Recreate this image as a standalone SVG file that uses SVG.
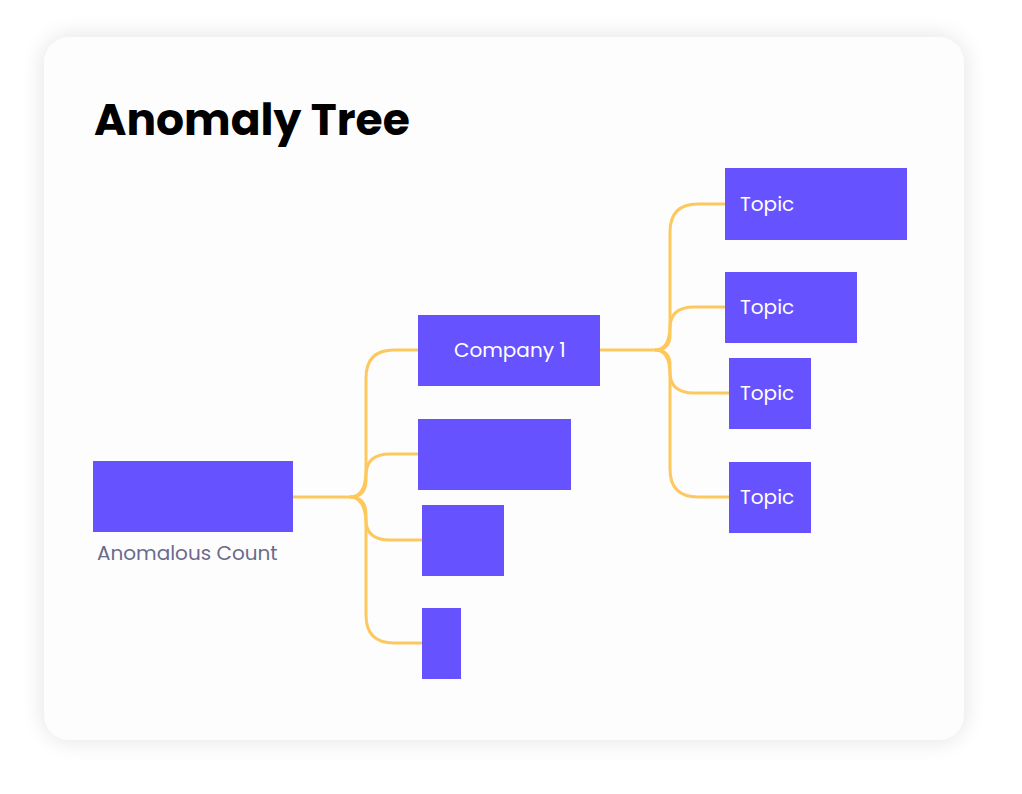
<svg xmlns="http://www.w3.org/2000/svg" width="1022" height="794" viewBox="0 0 1022 794">
<defs>
<filter id="sh" x="-10%" y="-10%" width="120%" height="120%"><feGaussianBlur in="SourceAlpha" stdDeviation="12"/><feComponentTransfer><feFuncA type="linear" slope="0.12"/></feComponentTransfer><feMerge><feMergeNode/><feMergeNode in="SourceGraphic"/></feMerge></filter>
<style>
.n{fill:#6752FF}
.t{font-family:Poppins,"Open Sans","Liberation Sans",sans-serif;font-size:20px;fill:#fff}
.c{fill:none;stroke:#FDC95E;stroke-width:3}
</style>
</defs>
<rect width="1022" height="794" fill="#fff"/>
<rect x="44" y="37" width="920" height="703" rx="26" fill="#fdfdfd" filter="url(#sh)"/>
<text x="94" y="135" font-family="Poppins,'Open Sans','Liberation Sans',sans-serif" font-weight="700" font-size="44" fill="#000">Anomaly Tree</text>
<g id="connectors">
<path class="c" d="M293,497 H350"/>
<path class="c" d="M350,497 Q366,497 366,470 V378 Q366,350 394,350 H420"/>
<path class="c" d="M350,497 Q366,497 366,480 V475 Q366,454 390,454 H420"/>
<path class="c" d="M350,497 Q366,497 366,515 V520 Q366,540 390,540 H424"/>
<path class="c" d="M350,497 Q366,497 366,525 V615 Q366,643 394,643 H424"/>
<path class="c" d="M600,350 H655"/>
<path class="c" d="M655,350 Q670,350 670,325 V232 Q670,204 698,204 H727"/>
<path class="c" d="M655,350 Q670,350 670,335 V328 Q670,307 694,307 H727"/>
<path class="c" d="M655,350 Q670,350 670,365 V372 Q670,393 694,393 H731"/>
<path class="c" d="M655,350 Q670,350 670,375 V469 Q670,497 698,497 H731"/>
</g>
<g id="root"><rect class="n" x="93" y="461" width="200" height="71"/><text x="97" y="560" font-family="Poppins,'Open Sans','Liberation Sans',sans-serif" font-size="20" fill="#6b6b8c">Anomalous Count</text></g>
<g id="company1"><rect class="n" x="418" y="315" width="182" height="71"/><text class="t" x="454" y="357">Company 1</text></g>
<g id="b2"><rect class="n" x="418" y="419" width="153" height="71"/></g>
<g id="b3"><rect class="n" x="422" y="505" width="82" height="71"/></g>
<g id="b4"><rect class="n" x="422" y="608" width="39" height="71"/></g>
<g id="topic1"><rect class="n" x="725" y="168" width="182" height="72"/><text class="t" x="740" y="211">Topic</text></g>
<g id="topic2"><rect class="n" x="725" y="272" width="132" height="71"/><text class="t" x="740" y="314">Topic</text></g>
<g id="topic3"><rect class="n" x="729" y="358" width="82" height="71"/><text class="t" x="740" y="400">Topic</text></g>
<g id="topic4"><rect class="n" x="729" y="462" width="82" height="71"/><text class="t" x="740" y="504">Topic</text></g>
</svg>
